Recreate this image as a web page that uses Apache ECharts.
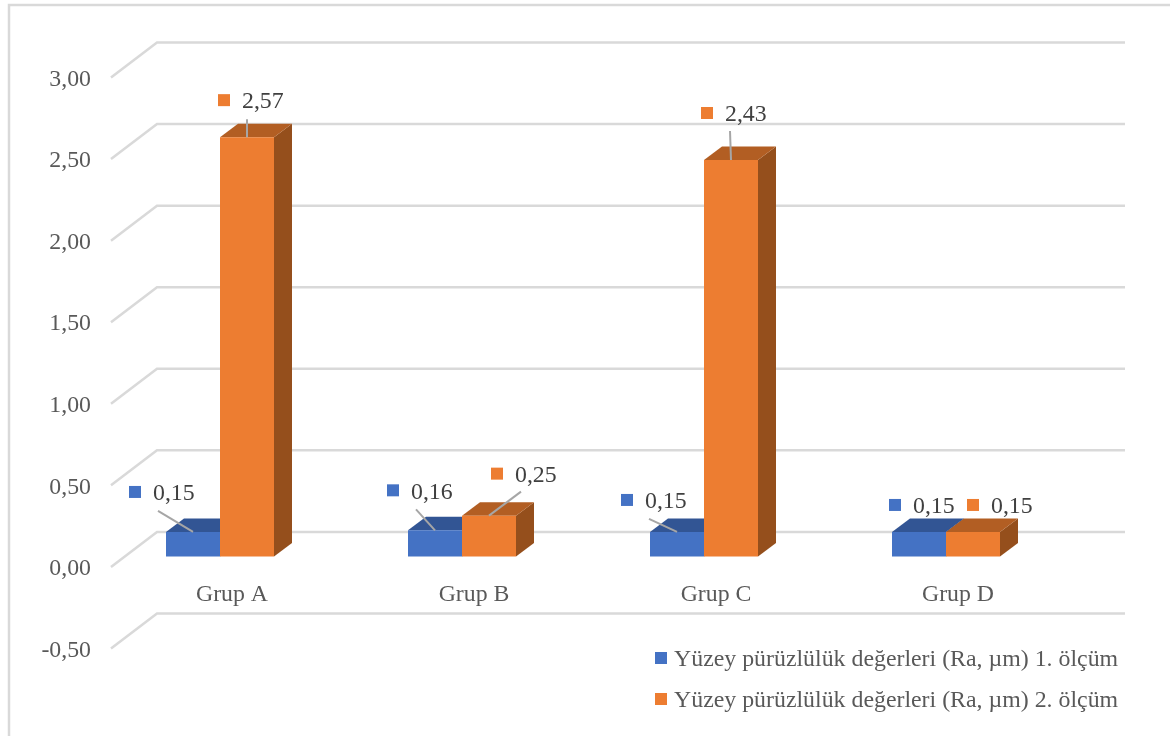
<!DOCTYPE html>
<html>
<head>
<meta charset="utf-8">
<style>
  html, body { margin: 0; padding: 0; background: #fff; }
  #chart { width: 1170px; height: 736px; }
</style>
<script src="https://cdn.jsdelivr.net/npm/echarts@6/dist/echarts.min.js"></script>
</head>
<body>
<div id="chart"></div>
<script>
const categories = ['Grup A', 'Grup B', 'Grup C', 'Grup D'];
const olcum1 = [0.15, 0.16, 0.15, 0.15];
const olcum2 = [2.57, 0.25, 2.43, 0.15];
const yTicks = [-0.5, 0, 0.5, 1, 1.5, 2, 2.5, 3];
const names = [
  'Yüzey pürüzlülük değerleri (Ra, µm) 1. ölçüm',
  'Yüzey pürüzlülük değerleri (Ra, µm) 2. ölçüm'
];

// hand placed labels, offset from top centre of the bar: square x, square y, leader x, leader y
const labelPos1 = [[-64, -46, -35, -21], [-48, -46, -19, -21], [-56, -38, -28, -13], [-30, -33, null, null]];
const labelPos2 = [[-29, -43, 0, -18], [2, -48, 32, -24], [-30, -53, -1, -29], [-6, -33, null, null]];

const FONT = '"Liberation Serif", "Times New Roman", serif';
const FONT_SIZE = 23.8;
const wall = [46, -35];    // wall corner vs axis end
const barShift = [-12, -10.5];  // bars sit a bit inside the floor
const depth = [18, -13.5];
const barW = 54;

const fmt = v => v.toFixed(2).replace('.', ',');

function renderGridLine(params, api) {
  const p = api.coord([0, api.value(1)]);
  const cs = params.coordSys;
  const x0 = cs.x, y0 = p[1];
  return {
    type: 'polyline',
    silent: true,
    shape: { points: [[x0, y0], [x0 + wall[0], y0 + wall[1]], [x0 + wall[0] + cs.width, y0 + wall[1]]] },
    style: { stroke: '#d9d9d9', lineWidth: 2.5, fill: null }
  };
}

function bar3d(side, cols, labelPos) {
  return function (params, api) {
    const i = api.value(0), v = api.value(1);
    const top = api.coord([i, v]);
    const base = api.coord([i, 0]);
    const x0 = top[0] + barShift[0] + side * barW;
    const x1 = x0 + barW;
    const yT = top[1] + barShift[1];
    const yB = base[1] + barShift[1];
    const [dx, dy] = depth;
    const cx = (x0 + x1) / 2;
    const lp = labelPos[i];
    const children = [
      { type: 'polygon', shape: { points: [[x1, yT], [x1 + dx, yT + dy], [x1 + dx, yB + dy], [x1, yB]] }, style: { fill: cols[2] } },
      { type: 'polygon', shape: { points: [[x0, yT], [x0 + dx, yT + dy], [x1 + dx, yT + dy], [x1, yT]] }, style: { fill: cols[1] } },
      { type: 'rect', shape: { x: x0, y: yT, width: barW, height: yB - yT }, style: { fill: cols[0] } }
    ];
    if (lp[2] !== null) {
      children.push({
        type: 'line',
        shape: { x1: cx + lp[2], y1: yT + lp[3], x2: cx, y2: yT },
        style: { stroke: '#a6a6a6', lineWidth: 2 }
      });
    }
    children.push(
      { type: 'rect', shape: { x: cx + lp[0], y: yT + lp[1], width: 12, height: 12 }, style: { fill: cols[0] } },
      {
        type: 'text',
        style: {
          x: cx + lp[0] + 24, y: yT + lp[1] + 8,
          text: fmt(v), fill: '#404040', font: FONT_SIZE + 'px ' + FONT,
          textAlign: 'left', textVerticalAlign: 'middle'
        }
      }
    );
    return { type: 'group', children };
  };
}

const chart = echarts.init(document.getElementById('chart'), null, { renderer: 'canvas' });
chart.setOption({
  backgroundColor: '#fff',
  animation: false,
  graphic: [{
    type: 'rect',
    silent: true,
    z: -1,
    shape: { x: 9, y: 5, width: 1200, height: 800 },
    style: { fill: null, stroke: '#d9d9d9', lineWidth: 2.5 }
  }],
  legend: {
    orient: 'vertical',
    left: 650,
    top: 643,
    itemWidth: 12,
    itemHeight: 12,
    itemGap: 17,
    icon: 'rect',
    formatter: name => '{t|' + name + '}',
    textStyle: {
      padding: [0, 0, 0, 2],
      rich: { t: { fontFamily: FONT, fontSize: 23.85, color: '#595959', padding: [4, 0, 0, 0] } }
    },
    data: names
  },
  grid: { left: 111, top: 77.5, width: 968, height: 571 },
  xAxis: {
    type: 'category',
    data: categories,
    offset: -82,   // labels sit under the zero line, not under the -0,50 one
    axisLine: { show: false, onZero: false },
    axisTick: { show: false },
    axisLabel: { fontFamily: FONT, fontSize: FONT_SIZE, color: '#595959', margin: 16 }
  },
  yAxis: {
    type: 'value',
    min: -0.5,
    max: 3,
    interval: 0.5,
    splitLine: { show: false },
    axisLine: { show: false },
    axisTick: { show: false },
    axisLabel: {
      color: '#595959',
      margin: 20,
      formatter: v => '{t|' + fmt(v) + '}',
      rich: { t: { fontFamily: FONT, fontSize: FONT_SIZE, color: '#595959', padding: [4, 0, 0, 0] } }
    }
  },
  series: [
    {
      type: 'custom',
      name: 'grid',
      silent: true,
      z: 1,
      data: yTicks.map(v => [0, v]),
      renderItem: renderGridLine
    },
    {
      type: 'custom',
      name: names[0],
      z: 2,
      itemStyle: { color: '#4472c4' },
      data: olcum1.map((v, i) => [i, v]),
      renderItem: bar3d(-1, ['#4472c4', '#325594', '#2a4a80'], labelPos1)
    },
    {
      type: 'custom',
      name: names[1],
      z: 3,
      itemStyle: { color: '#ed7d31' },
      data: olcum2.map((v, i) => [i, v]),
      renderItem: bar3d(0, ['#ed7d31', '#b25e23', '#954f1c'], labelPos2)
    }
  ]
});
</script>
</body>
</html>
